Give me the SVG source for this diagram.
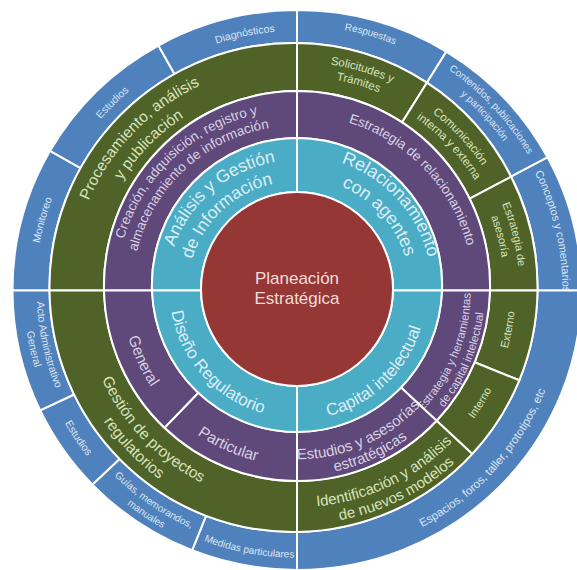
<svg xmlns="http://www.w3.org/2000/svg" width="577" height="570" viewBox="0 0 577 570">
<style>
.seg{stroke:#ffffff;stroke-width:2;stroke-linejoin:round}
.bl{fill:#4f81bd}.gr{fill:#4f6228}.pu{fill:#5f497a}.cy{fill:#4bacc6}.rd{fill:#953735}
text{font-family:"Liberation Sans",Arial,sans-serif;text-anchor:middle}
.tb{fill:#dbe5f1}.tg{fill:#d7e4bd}.tp{fill:#d9d0e3}.tc{fill:#dbeef4}.tr{fill:#f2dcdb}
</style>
<defs>
<path id="t1" d="M35.4 290.5 A261.6 261.6 0 0 1 558.6 290.5"/>
<path id="t2" d="M36.4 290.5 A260.6 260.6 0 0 1 557.6 290.5"/>
<path id="t3" d="M37.4 290.5 A259.6 259.6 0 0 1 556.6 290.5"/>
<path id="t4" d="M32.2 290.5 A264.8 264.8 0 0 1 561.8 290.5"/>
<path id="t5" d="M29.2 290.5 A267.8 267.8 0 0 1 564.8 290.5"/>
<path id="t6" d="M42.2 290.5 A254.8 254.8 0 0 1 551.8 290.5"/>
<path id="t7" d="M31.5 290.5 A265.5 265.5 0 0 1 562.5 290.5"/>
<path id="t8" d="M70 290.5 A227 227 0 0 1 524 290.5"/>
<path id="t9" d="M90 290.5 A207 207 0 0 1 504 290.5"/>
<path id="t10" d="M68.7 290.5 A228.3 228.3 0 0 1 525.3 290.5"/>
<path id="t11" d="M82.7 290.5 A214.3 214.3 0 0 1 511.3 290.5"/>
<path id="t12" d="M73.7 290.5 A223.3 223.3 0 0 1 520.3 290.5"/>
<path id="t13" d="M87.7 290.5 A209.3 209.3 0 0 1 506.3 290.5"/>
<path id="t14" d="M74.5 290.5 A222.5 222.5 0 0 1 519.5 290.5"/>
<path id="t15" d="M89.5 290.5 A207.5 207.5 0 0 1 504.5 290.5"/>
<path id="t16" d="M116.3 290.5 A180.7 180.7 0 0 1 477.7 290.5"/>
<path id="t17" d="M132.3 290.5 A164.7 164.7 0 0 1 461.7 290.5"/>
<path id="t18" d="M121.3 290.5 A175.7 175.7 0 0 1 472.7 290.5"/>
<path id="t19" d="M166.6 290.5 A130.4 130.4 0 0 1 427.4 290.5"/>
<path id="t20" d="M187.6 290.5 A109.4 109.4 0 0 1 406.4 290.5"/>
<path id="t21" d="M161.8 290.5 A135.2 135.2 0 0 1 432.2 290.5"/>
<path id="t22" d="M183.8 290.5 A113.2 113.2 0 0 1 410.2 290.5"/>
<path id="b1" d="M29.3 290.5 A267.7 267.7 0 0 0 564.7 290.5"/>
<path id="b2" d="M29.8 290.5 A267.2 267.2 0 0 0 564.2 290.5"/>
<path id="b3" d="M36.8 290.5 A260.2 260.2 0 0 0 557.2 290.5"/>
<path id="b4" d="M23.8 290.5 A273.2 273.2 0 0 0 570.2 290.5"/>
<path id="b5" d="M29.6 290.5 A267.4 267.4 0 0 0 564.4 290.5"/>
<path id="b6" d="M36.6 290.5 A260.4 260.4 0 0 0 557.4 290.5"/>
<path id="b7" d="M23.6 290.5 A273.4 273.4 0 0 0 570.4 290.5"/>
<path id="b8" d="M78.5 290.5 A218.5 218.5 0 0 0 515.5 290.5"/>
<path id="b10" d="M80.2 290.5 A216.8 216.8 0 0 0 513.8 290.5"/>
<path id="b11" d="M63.2 290.5 A233.8 233.8 0 0 0 530.8 290.5"/>
<path id="b12" d="M82.5 290.5 A214.5 214.5 0 0 0 511.5 290.5"/>
<path id="b13" d="M63.5 290.5 A233.5 233.5 0 0 0 530.5 290.5"/>
<path id="b14" d="M123.3 290.5 A173.7 173.7 0 0 0 470.7 290.5"/>
<path id="b15" d="M109.3 290.5 A187.7 187.7 0 0 0 484.7 290.5"/>
<path id="b16" d="M128.2 290.5 A168.8 168.8 0 0 0 465.8 290.5"/>
<path id="b17" d="M112.2 290.5 A184.8 184.8 0 0 0 481.8 290.5"/>
<path id="b18" d="M122 290.5 A175 175 0 0 0 472 290.5"/>
<path id="b20" d="M169.6 290.5 A127.4 127.4 0 0 0 424.4 290.5"/>
<path id="b21" d="M167.6 290.5 A129.4 129.4 0 0 0 426.4 290.5"/>
</defs>
<rect width="577" height="570" fill="#ffffff"/>

<!-- outer ring (blue) -->
<g id="monitoreo"><path class="seg bl" d="M12.5 290.5 A284.5 280 0 0 1 50.1 150.8 L80.6 168.1 A244 244.5 0 0 0 49.5 290.5 Z"/>
<text class="tb" font-size="10.5" transform="rotate(-74.5 297 290.5)"><textPath href="#t1" startOffset="50%">Monitoreo</textPath></text></g>
<g id="estudios-1"><path class="seg bl" d="M50.1 150.8 A284.5 280 0 0 1 158.4 45.5 L174.5 74 A244 244.5 0 0 0 80.6 168.1 Z"/>
<text class="tb" font-size="10.5" transform="rotate(-44.5 297 290.5)"><textPath href="#t2" startOffset="50%">Estudios</textPath></text></g>
<g id="diagnosticos"><path class="seg bl" d="M158.4 45.5 A284.5 280 0 0 1 297 10 L297 43 A244 244.5 0 0 0 174.5 74 Z"/>
<text class="tb" font-size="10.5" transform="rotate(-11.5 297 290.5)"><textPath href="#t3" startOffset="50%">Diagnósticos</textPath></text></g>
<g id="respuestas"><path class="seg bl" d="M297 10 A284.5 280 0 0 1 446.3 51.6 L426.9 82.7 A244 244.5 0 0 0 297 43 Z"/>
<text class="tb" font-size="10" transform="rotate(16 297 290.5)"><textPath href="#t4" startOffset="50%">Respuestas</textPath></text></g>
<g id="contenidos"><path class="seg bl" d="M446.3 51.6 A284.5 280 0 0 1 547.5 157.3 L511.1 176.7 A244 244.5 0 0 0 426.9 82.7 Z"/>
<text class="tb" font-size="10" transform="rotate(47 297 290.5)"><textPath href="#t5" startOffset="50%">Contenidos, publicaciones</textPath></text>
<text class="tb" font-size="10" transform="rotate(47 297 290.5)"><textPath href="#t6" startOffset="50%">y participación</textPath></text></g>
<g id="conceptos"><path class="seg bl" d="M547.5 157.3 A284.5 280 0 0 1 581.5 290.5 L537.5 290.5 A244 244.5 0 0 0 511.1 176.7 Z"/>
<text class="tb" font-size="11" transform="rotate(77 297 290.5)"><textPath href="#t7" startOffset="50%">Conceptos y comentarios</textPath></text></g>
<g id="espacios"><path class="seg bl" d="M581.5 290.5 A284.5 280 0 0 1 297 570 L297 532 A244 244.5 0 0 0 537.5 290.5 Z"/>
<text class="tb" font-size="11.5" transform="rotate(-48 297 290.5)"><textPath href="#b1" startOffset="50%">Espacios, foros, taller, prototipos, etc</textPath></text></g>
<g id="medidas"><path class="seg bl" d="M297 570 A284.5 280 0 0 1 192.1 550.3 L206 515.8 A244 244.5 0 0 0 297 532 Z"/>
<text class="tb" font-size="10" transform="rotate(10.5 297 290.5)"><textPath href="#b2" startOffset="50%">Medidas particulares</textPath></text></g>
<g id="guias"><path class="seg bl" d="M192.1 550.3 A284.5 280 0 0 1 92.4 484.6 L119.5 458.9 A244 244.5 0 0 0 206 515.8 Z"/>
<text class="tb" font-size="10" transform="rotate(34.3 297 290.5)"><textPath href="#b3" startOffset="50%">Guías, memorandos,</textPath></text>
<text class="tb" font-size="10" transform="rotate(34 297 290.5)"><textPath href="#b4" startOffset="50%">manuales</textPath></text></g>
<g id="estudios-2"><path class="seg bl" d="M92.4 484.6 A284.5 280 0 0 1 40.1 410.3 L74.1 394.5 A244 244.5 0 0 0 119.5 458.9 Z"/>
<text class="tb" font-size="10.5" transform="rotate(56 297 290.5)"><textPath href="#b5" startOffset="50%">Estudios</textPath></text></g>
<g id="acto"><path class="seg bl" d="M40.1 410.3 A284.5 280 0 0 1 12.5 290.5 L49.5 290.5 A244 244.5 0 0 0 74.1 394.5 Z"/>
<text class="tb" font-size="10.5" transform="rotate(77.7 297 290.5)"><textPath href="#b6" startOffset="50%">Acto Administrativo</textPath></text>
<text class="tb" font-size="10.5" transform="rotate(77.5 297 290.5)"><textPath href="#b7" startOffset="50%">General</textPath></text></g>

<!-- green ring -->
<g id="procesamiento"><path class="seg gr" d="M49.5 290.5 A244 244.5 0 0 1 297 43 L297 91 A193 195 0 0 0 104 290.5 Z"/>
<text class="tg" font-size="15.5" transform="rotate(-46 297 290.5)"><textPath href="#t8" startOffset="50%">Procesamiento, análisis</textPath></text>
<text class="tg" font-size="15.5" transform="rotate(-45.5 297 290.5)"><textPath href="#t9" startOffset="50%">y publicación</textPath></text></g>
<g id="solicitudes"><path class="seg gr" d="M297 43 A244 244.5 0 0 1 426.9 82.7 L402.1 122.4 A193 195 0 0 0 297 91 Z"/>
<text class="tg" font-size="11.5" transform="rotate(16.5 297 290.5)"><textPath href="#t10" startOffset="50%">Solicitudes y</textPath></text>
<text class="tg" font-size="11.5" transform="rotate(16.5 297 290.5)"><textPath href="#t11" startOffset="50%">Trámites</textPath></text></g>
<g id="comunicacion"><path class="seg gr" d="M426.9 82.7 A244 244.5 0 0 1 511.1 176.7 L469.7 198.7 A193 195 0 0 0 402.1 122.4 Z"/>
<text class="tg" font-size="11.5" transform="rotate(46.7 297 290.5)"><textPath href="#t12" startOffset="50%">Comunicación</textPath></text>
<text class="tg" font-size="11.5" transform="rotate(46.5 297 290.5)"><textPath href="#t13" startOffset="50%">interna y externa</textPath></text></g>
<g id="estrategia-asesoria"><path class="seg gr" d="M511.1 176.7 A244 244.5 0 0 1 537.5 290.5 L490 290.5 A193 195 0 0 0 469.7 198.7 Z"/>
<text class="tg" font-size="11" transform="rotate(75.5 297 290.5)"><textPath href="#t14" startOffset="50%">Estrategia de</textPath></text>
<text class="tg" font-size="11" transform="rotate(75 297 290.5)"><textPath href="#t15" startOffset="50%">asesoría</textPath></text></g>
<g id="externo"><path class="seg gr" d="M537.5 290.5 A244 244.5 0 0 1 519.3 380.3 L474.6 362.3 A193 195 0 0 0 490 290.5 Z"/>
<text class="tg" font-size="11" transform="rotate(-79.5 297 290.5)"><textPath href="#b8" startOffset="50%">Externo</textPath></text></g>
<g id="interno"><path class="seg gr" d="M519.3 380.3 A244 244.5 0 0 1 472.3 453.9 L436.6 420.7 A193 195 0 0 0 474.6 362.3 Z"/>
<text class="tg" font-size="11" transform="rotate(-58.5 297 290.5)"><textPath href="#b8" startOffset="50%">Interno</textPath></text></g>
<g id="identificacion"><path class="seg gr" d="M472.3 453.9 A244 244.5 0 0 1 297 532 L297 481 A193 195 0 0 0 436.6 420.7 Z"/>
<text class="tg" font-size="15" transform="rotate(-25.5 297 290.5)"><textPath href="#b10" startOffset="50%">Identificación y análisis</textPath></text>
<text class="tg" font-size="15" transform="rotate(-26.5 297 290.5)"><textPath href="#b11" startOffset="50%">de nuevos modelos</textPath></text></g>
<g id="gestion-proyectos"><path class="seg gr" d="M297 532 A244 244.5 0 0 1 49.5 290.5 L104 290.5 A193 195 0 0 0 297 481 Z"/>
<text class="tg" font-size="15.5" transform="rotate(46 297 290.5)"><textPath href="#b12" startOffset="50%">Gestión de proyectos</textPath></text>
<text class="tg" font-size="15.5" transform="rotate(46 297 290.5)"><textPath href="#b13" startOffset="50%">regulatorios</textPath></text></g>

<!-- purple ring -->
<g id="creacion"><path class="seg pu" d="M104 290.5 A193 195 0 0 1 297 91 L297 138 A145 147 0 0 0 152 290.5 Z"/>
<text class="tp" font-size="13.5" transform="rotate(-43 297 290.5)"><textPath href="#t16" startOffset="50%">Creación, adquisición, registro y</textPath></text>
<text class="tp" font-size="13.5" transform="rotate(-43 297 290.5)"><textPath href="#t17" startOffset="50%">almacenamiento de información</textPath></text></g>
<g id="estrategia-relacionamiento"><path class="seg pu" d="M297 91 A193 195 0 0 1 490 290.5 L442 290.5 A145 147 0 0 0 297 138 Z"/>
<text class="tp" font-size="13.5" transform="rotate(46.2 297 290.5)"><textPath href="#t18" startOffset="50%">Estrategia de relacionamiento</textPath></text></g>
<g id="estrategia-herramientas"><path class="seg pu" d="M490 290.5 A193 195 0 0 1 436.6 420.7 L401 387.5 A145 147 0 0 0 442 290.5 Z"/>
<text class="tp" font-size="11.5" transform="rotate(-67.5 297 290.5)"><textPath href="#b14" startOffset="50%">Estrategia y herramientas</textPath></text>
<text class="tp" font-size="11.5" transform="rotate(-67.3 297 290.5)"><textPath href="#b15" startOffset="50%">de capital intelectual</textPath></text></g>
<g id="estudios-asesorias"><path class="seg pu" d="M436.6 420.7 A193 195 0 0 1 297 481 L297 432 A145 147 0 0 0 401 387.5 Z"/>
<text class="tp" font-size="15" transform="rotate(-23.5 297 290.5)"><textPath href="#b16" startOffset="50%">Estudios y asesorías</textPath></text>
<text class="tp" font-size="15" transform="rotate(-24.3 297 290.5)"><textPath href="#b17" startOffset="50%">estratégicas</textPath></text></g>
<g id="particular"><path class="seg pu" d="M297 481 A193 195 0 0 1 164.5 427.8 L198.3 392.7 A145 147 0 0 0 297 432 Z"/>
<text class="tp" font-size="15.5" transform="rotate(24 297 290.5)"><textPath href="#b18" startOffset="50%">Particular</textPath></text></g>
<g id="general"><path class="seg pu" d="M164.5 427.8 A193 195 0 0 1 104 290.5 L152 290.5 A145 147 0 0 0 198.3 392.7 Z"/>
<text class="tp" font-size="15.5" transform="rotate(65.5 297 290.5)"><textPath href="#b18" startOffset="50%">General</textPath></text></g>

<!-- cyan ring -->
<g id="analisis-gestion"><path class="seg cy" d="M152 290.5 A145 147 0 0 1 297 138 L297 192 A96 97 0 0 0 201 290.5 Z"/>
<text class="tc" font-size="17.5" transform="rotate(-40 297 290.5)"><textPath href="#t19" startOffset="50%">Análisis y Gestión</textPath></text>
<text class="tc" font-size="17.5" transform="rotate(-43 297 290.5)"><textPath href="#t20" startOffset="50%">de Información</textPath></text></g>
<g id="relacionamiento"><path class="seg cy" d="M297 138 A145 147 0 0 1 442 290.5 L393 290.5 A96 97 0 0 0 297 192 Z"/>
<text class="tc" font-size="18" transform="rotate(47.5 297 290.5)"><textPath href="#t21" startOffset="50%">Relacionamiento</textPath></text>
<text class="tc" font-size="18" transform="rotate(48 297 290.5)"><textPath href="#t22" startOffset="50%">con agentes</textPath></text></g>
<g id="capital-intelectual"><path class="seg cy" d="M442 290.5 A145 147 0 0 1 297 432 L297 386 A96 97 0 0 0 393 290.5 Z"/>
<text class="tc" font-size="17" transform="rotate(-43.6 297 290.5)"><textPath href="#b21" startOffset="50%">Capital intelectual</textPath></text></g>
<g id="diseno-regulatorio"><path class="seg cy" d="M297 432 A145 147 0 0 1 152 290.5 L201 290.5 A96 97 0 0 0 297 386 Z"/>
<text class="tc" font-size="17" transform="rotate(48 297 290.5)"><textPath href="#b20" startOffset="50%">Diseño Regulatorio</textPath></text></g>

<!-- center -->
<g id="planeacion"><ellipse class="seg rd" cx="297" cy="289" rx="96" ry="97"/>
<text class="tr" font-size="17" x="297" y="284">Planeación</text>
<text class="tr" font-size="17" x="297" y="304">Estratégica</text></g>
</svg>
